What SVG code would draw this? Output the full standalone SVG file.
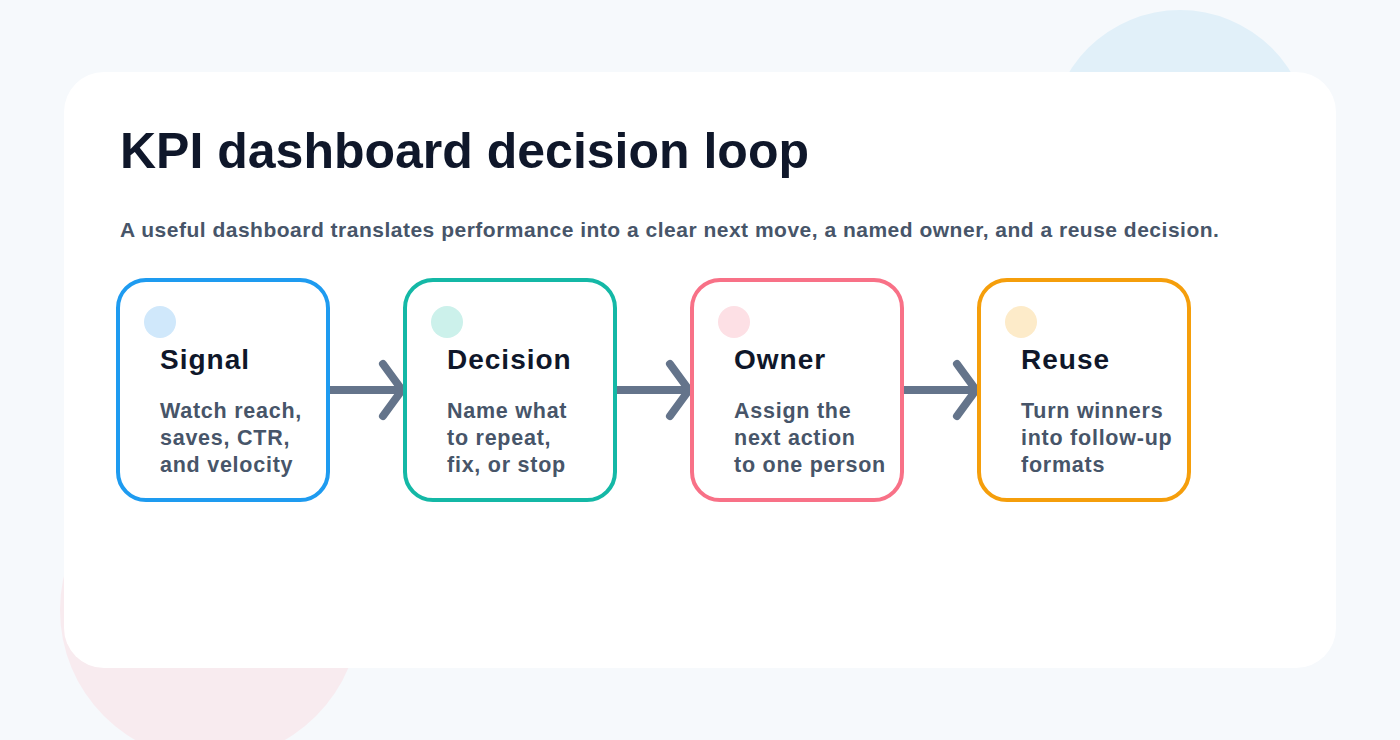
<svg xmlns="http://www.w3.org/2000/svg" width="1400" height="740" viewBox="0 0 1400 740">
  <defs>
    <style>
      .card-title { font-family: "Liberation Sans", Arial, sans-serif; font-weight: 700; font-size: 50px; fill: #0f172a; }
      .subtitle { font-family: "Liberation Sans", Arial, sans-serif; font-weight: 700; font-size: 21px; letter-spacing: 0.5px; fill: #475569; }
      .box { fill: #ffffff; stroke-width: 4; }
      .node-title { font-family: "Liberation Sans", Arial, sans-serif; font-weight: 700; font-size: 28px; letter-spacing: 1px; fill: #0f172a; }
      .node-text { font-family: "Liberation Sans", Arial, sans-serif; font-weight: 700; font-size: 21.5px; letter-spacing: 0.75px; fill: #475569; }
      .conn { stroke: #64748b; stroke-width: 8; fill: none; }
    </style>
    <marker id="chev" markerUnits="userSpaceOnUse" viewBox="-30 -34 40 68" markerWidth="40" markerHeight="68" refX="0" refY="0" orient="auto" overflow="visible">
      <path d="M-19,-26 L0,0 L-19,26" fill="none" stroke="#64748b" stroke-width="8" stroke-linecap="round" stroke-linejoin="round"/>
    </marker>
  </defs>

  <rect width="1400" height="740" fill="#f6f9fc"/>
  <circle cx="1180" cy="140" r="130" fill="#e1f0f9"/>
  <circle cx="210" cy="610" r="150" fill="#f8ebef"/>
  <rect x="64" y="72" width="1272" height="596" rx="40" fill="#ffffff"/>

  <text class="card-title" x="120" y="168">KPI dashboard decision loop</text>
  <text class="subtitle" x="120" y="237">A useful dashboard translates performance into a clear next move, a named owner, and a reuse decision.</text>

  <g id="connectors">
    <line class="conn" x1="330" y1="390" x2="402" y2="390" marker-end="url(#chev)"/>
    <line class="conn" x1="617" y1="390" x2="689" y2="390" marker-end="url(#chev)"/>
    <line class="conn" x1="904" y1="390" x2="976" y2="390" marker-end="url(#chev)"/>
  </g>

  <g id="node-signal">
    <rect class="box" x="118" y="280" width="210" height="220" rx="28" stroke="#1e9bf0"/>
    <circle cx="160" cy="322" r="16" fill="#d0e8fb"/>
    <text class="node-title" x="160" y="369">Signal</text>
    <text class="node-text" x="160" y="418">Watch reach,</text>
    <text class="node-text" x="160" y="445">saves, CTR,</text>
    <text class="node-text" x="160" y="472">and velocity</text>
  </g>

  <g id="node-decision">
    <rect class="box" x="405" y="280" width="210" height="220" rx="28" stroke="#14b8a6"/>
    <circle cx="447" cy="322" r="16" fill="#ccf1eb"/>
    <text class="node-title" x="447" y="369">Decision</text>
    <text class="node-text" x="447" y="418">Name what</text>
    <text class="node-text" x="447" y="445">to repeat,</text>
    <text class="node-text" x="447" y="472">fix, or stop</text>
  </g>

  <g id="node-owner">
    <rect class="box" x="692" y="280" width="210" height="220" rx="28" stroke="#f87187"/>
    <circle cx="734" cy="322" r="16" fill="#fde0e5"/>
    <text class="node-title" x="734" y="369">Owner</text>
    <text class="node-text" x="734" y="418">Assign the</text>
    <text class="node-text" x="734" y="445">next action</text>
    <text class="node-text" x="734" y="472">to one person</text>
  </g>

  <g id="node-reuse">
    <rect class="box" x="979" y="280" width="210" height="220" rx="28" stroke="#f59e0b"/>
    <circle cx="1021" cy="322" r="16" fill="#fdebc9"/>
    <text class="node-title" x="1021" y="369">Reuse</text>
    <text class="node-text" x="1021" y="418">Turn winners</text>
    <text class="node-text" x="1021" y="445">into follow-up</text>
    <text class="node-text" x="1021" y="472">formats</text>
  </g>
</svg>
